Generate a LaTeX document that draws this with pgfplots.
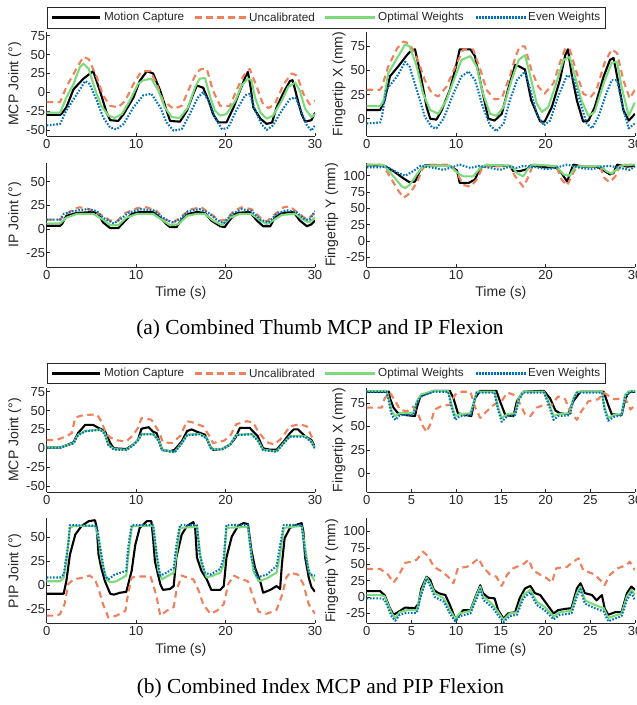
\documentclass[border=0pt]{standalone}
\usepackage{fontspec}
\setmainfont{Liberation Sans}
\newfontfamily\capfont{Liberation Serif}
\usepackage{pgfplots}
\pgfplotsset{compat=1.18}

\definecolor{axgray}{RGB}{38,38,38}
\definecolor{cUN}{RGB}{238,128,92}
\definecolor{cOW}{RGB}{124,218,124}
\definecolor{cEW}{RGB}{0,114,189}

\pgfplotsset{
  panel/.style={
    scale only axis, width=268.3pt, height=104pt, anchor=south west,
    axis x line*=bottom, axis y line*=left,
    axis line style={-, axgray, line width=0.6pt},
    tick align=inside, major tick length=3pt,
    tick style={axgray, line width=0.6pt},
    xmin=0, xmax=30, xtick={0,10,20,30},
    ticklabel style={font=\fontsize{13}{13}\selectfont, text=axgray},
    yticklabel style={inner xsep=1.5pt},
    /pgf/number format/assume math mode=true,
    label style={font=\fontsize{14}{14}\selectfont, text=axgray},
    every axis plot/.append style={line width=2.1pt, line join=round},
  },
  sMC/.style={black},
  sUN/.style={cUN, dash pattern=on 6.5pt off 4.5pt},
  sOW/.style={cOW},
  sEW/.style={cEW, dash pattern=on 1.6pt off 1.6pt},
}

% legend box (#1 bottom, #2 top, #3 bottom of the sample strips);
% frame and samples are filled, aligned to whole points
\newcommand\legendbox[3]{%
  \fill[axgray] (47pt,#1) rectangle (606pt,#2);
  \fill[white] (48pt,#1+1pt) rectangle (605pt,#2-1pt);
  \fill[black] (52pt,#3) rectangle (100pt,#3+3pt);
  \foreach \x in {195,206,217,228,239}
    \fill[cUN] (\x pt,#3) rectangle (\x pt+7pt,#3+3pt);
  \fill[cOW] (325pt,#3) rectangle (375pt,#3+3pt);
  \foreach \i in {0,...,16}
    \fill[cEW] (476pt+3pt*\i,#3) rectangle (478pt+3pt*\i,#3+3pt);
  \node[anchor=west, inner sep=0pt, text=axgray, font=\fontsize{11.7}{12}\selectfont] at (104pt,#3+1.5pt) {Motion Capture};
  \node[anchor=west, inner sep=0pt, text=axgray, font=\fontsize{11.7}{12}\selectfont] at (249pt,#3+1.5pt) {Uncalibrated};
  \node[anchor=west, inner sep=0pt, text=axgray, font=\fontsize{11.7}{12}\selectfont] at (378pt,#3+1.5pt) {Optimal Weights};
  \node[anchor=west, inner sep=0pt, text=axgray, font=\fontsize{11.7}{12}\selectfont] at (528pt,#3+1.5pt) {Even Weights};
}

\begin{document}
\begin{tikzpicture}
\path[use as bounding box] (0,0) rectangle (637pt,705pt);

% ---------------- (a) Thumb ----------------
\begin{axis}[panel, at={(46.7pt,569pt)}, ymin=-58, ymax=80, ytick={-50,-25,0,25,50,75},
  ylabel={MCP Joint (°)}]
\addplot[sMC] coordinates {(0,-30)(1.5,-30)(1.7,-28)(2.2,-20)(3,4)(4.1,18)(5.2,28)(6,0)(6.7,-27)(7.1,-37)(8,-38)(8.6,-29)(9.7,-7)(10.4,15)(11.2,28)(11.9,25)(12.7,2)(13.4,-24)(13.8,-38)(14.9,-39)(15.7,-24)(16.4,-2)(16.8,9)(17.5,6)(18.1,-11)(18.6,-29)(19.2,-40)(20.1,-40)(20.9,-20)(21.6,2)(22.2,20)(22.5,27)(22.8,7)(23.1,-20)(23.9,-35)(24.6,-42)(25.2,-40)(25.7,-20)(26.5,0)(27.2,15)(27.5,16)(28,-7)(28.5,-29)(28.9,-39)(29.6,-37)(30,-27)};
\addplot[sUN] coordinates {(0,-13)(1.5,-13)(2.2,7)(3.4,33)(4.1,47)(4.7,44)(5.6,20)(6.3,-4)(7.1,-18)(8,-20)(8.8,-11)(9.7,11)(10.6,28)(11.6,28)(12.3,11)(13,-11)(14.2,-22)(15.1,-18)(16,7)(16.8,27)(17.3,31)(17.9,31)(18.6,2)(19.4,-18)(20.5,-18)(21.2,2)(22,22)(22.7,31)(23.5,7)(24.2,-16)(24.8,-21)(25.5,-16)(26.5,11)(27.4,25)(28,22)(28.7,-2)(29.4,-16)(30,-11)};
\addplot[sOW] coordinates {(0,-27)(1.5,-27)(2.2,-7)(3,11)(3.7,33)(4.1,38)(4.7,31)(5.4,4)(6.1,-18)(6.9,-31)(7.6,-34)(8.4,-29)(9.3,-11)(10.2,11)(10.8,16)(11.7,18)(12.5,2)(13.2,-20)(14,-33)(14.9,-34)(15.8,-20)(16.6,7)(17.1,18)(17.7,19)(18.3,-7)(18.8,-24)(19.4,-31)(20.1,-29)(21.1,-11)(21.8,9)(22.5,18)(22.9,16)(23.3,-7)(23.9,-27)(24.6,-35)(25.3,-31)(26.3,-11)(27,7)(27.8,13)(28.3,2)(28.9,-22)(29.6,-33)(30,-29)};
\addplot[sEW] coordinates {(0,-44)(1.5,-42)(2.2,-24)(3.4,-2)(4.3,15)(4.8,11)(5.6,-11)(6.3,-33)(7.1,-47)(7.8,-49)(8.6,-42)(9.7,-20)(10.8,-4)(11.7,-2)(12.7,-20)(13.4,-40)(14.2,-51)(15.1,-49)(16,-29)(16.9,-7)(17.5,0)(18.1,-11)(18.8,-33)(19.6,-49)(20.3,-47)(21.2,-24)(22.2,-4)(22.7,-2)(23.3,-24)(24,-42)(24.6,-50)(25.3,-44)(26.3,-24)(27.2,-9)(27.8,-7)(28.3,-20)(29.1,-44)(29.6,-51)(30,-44)};
\end{axis}

\begin{axis}[panel, at={(366.7pt,569pt)}, ymin=-18, ymax=90, ytick={0,25,50,75},
  ylabel={Fingertip X (mm)}]
\addplot[sMC] coordinates {(0,9)(1.5,9)(2,19)(2.6,44)(3.5,54)(4.5,66)(5,71)(5.4,72)(6,47)(6.7,12)(7.1,0)(7.8,-1)(8.4,9)(9.3,30)(10,55)(10.4,72)(11.6,72)(12.1,65)(12.9,30)(13.6,0)(14.3,-2)(15.1,5)(15.8,30)(16.6,56)(17.1,54)(17.7,51)(18.4,19)(19.4,-3)(19.9,-3)(20.7,12)(21.6,40)(22.2,66)(22.5,72)(22.9,47)(23.5,19)(24.2,-3)(24.8,-2)(25.5,12)(26.5,44)(27.2,61)(27.6,63)(28,44)(28.7,9)(29.3,-2)(30,5)};
\addplot[sUN] coordinates {(0,30)(1.5,30)(1.7,33)(2.4,54)(3.4,73)(4.1,80)(4.8,78)(5.8,59)(6.5,40)(7.3,26)(8,23)(8.9,33)(10.1,58)(10.8,72)(11.9,72)(12.7,51)(13.4,30)(14.3,20)(15.1,21)(16,44)(16.6,63)(17.1,75)(17.7,75)(18.4,51)(19.2,33)(19.9,26)(20.9,37)(21.6,58)(22.2,73)(22.7,72)(23.5,47)(24.2,26)(25,22)(25.7,30)(26.6,58)(27.4,72)(28,68)(28.7,40)(29.4,21)(30,30)};
\addplot[sOW] coordinates {(0,13)(1.5,13)(1.9,19)(2.4,47)(3.4,63)(4.3,77)(4.8,75)(5.6,54)(6.3,26)(7.1,9)(8,5)(8.9,19)(9.9,44)(10.6,61)(11.6,65)(12.3,54)(13,26)(13.8,5)(14.5,3)(15.3,12)(16.2,40)(17,61)(17.7,66)(18.3,44)(19,16)(19.6,7)(20.3,12)(21.2,37)(22,61)(22.7,64)(23.3,44)(24,19)(24.8,3)(25.5,7)(26.5,37)(27.4,58)(28,59)(28.5,33)(29.3,3)(30,17)};
\addplot[sEW] coordinates {(0,-5)(1.5,-4)(1.7,2)(2.2,30)(3.4,44)(4.3,59)(4.8,54)(5.6,30)(6.5,2)(7.3,-9)(7.8,-10)(8.6,0)(9.7,26)(10.6,44)(11.4,49)(12.1,40)(13,12)(13.8,-7)(14.5,-13)(15.3,-5)(16,19)(16.8,40)(17.7,49)(18.3,30)(19,5)(19.8,-7)(20.5,-2)(21.4,23)(22.4,45)(23.1,42)(23.9,16)(24.6,-5)(25.2,-10)(25.9,2)(26.8,26)(27.4,40)(28,40)(28.7,9)(29.3,-10)(30,-5)};
\end{axis}

\begin{axis}[panel, at={(46.7pt,438pt)}, height=104.3pt, ymin=-40, ymax=70, ytick={-25,0,25,50},
  ylabel={IP Joint (°)}, xlabel={Time (s)}]
\addplot[sMC] coordinates {(0,3.5)(1.5,3.5)(1.7,5)(2.2,14)(3.4,17)(5.2,18)(5.8,16)(6.3,7)(7.1,1)(8,1)(8.8,9)(9.5,16)(10.4,18)(11.9,18)(12.7,12)(13.4,5)(13.8,2)(14.5,2)(15.1,10)(15.8,16)(16.8,18)(17.7,17)(18.4,9)(19.4,3)(19.9,2)(20.5,10)(21.2,17)(22.7,18)(23.5,9)(24.2,3)(25,3)(25.5,12)(26.3,17)(27.6,18)(28.3,9)(29.1,3)(29.6,5)(30,9)};
\addplot[sUN] coordinates {(0,10)(1.5,10)(1.9,14)(3,21)(3.7,23)(4.8,21)(5.6,17)(6.3,14)(7.1,9)(7.8,8)(8.8,17)(10.1,22)(11.2,23)(12.3,19)(13.2,10)(14.2,7)(15.1,14)(16.2,21)(17.3,23)(18.3,16)(19.4,9)(20.1,10)(20.9,19)(21.8,23)(22.9,21)(23.9,12)(24.6,8)(25.3,14)(26.5,23)(27.2,24)(28.1,17)(29.1,10)(30,17)};
\addplot[sOW] coordinates {(0,6)(1.5,6)(2.2,12)(3.4,16)(5.2,16)(6.3,10)(7.1,4)(8,4)(8.9,12)(10.1,16)(11.9,16)(13,9)(13.8,4)(14.7,5)(15.7,14)(16.8,16)(17.7,16)(18.6,9)(19.6,4)(20.5,12)(21.6,16)(22.9,16)(23.9,9)(24.6,5)(25.3,9)(26.3,15)(27.8,16)(28.7,10)(29.3,7)(30,12)};
\addplot[sEW] coordinates {(0,10)(1.5,10)(1.9,16)(3,19)(4.5,21)(5.6,19)(6.3,12)(7.5,6)(8.2,10)(9.1,17)(10.4,21)(11.9,20)(13,12)(14,7)(14.9,10)(15.8,19)(17.1,21)(18.1,17)(19,10)(19.8,6)(20.7,16)(21.8,21)(22.9,19)(23.9,10)(24.8,7)(25.7,16)(26.8,20)(27.9,18)(28.9,10)(29.4,10)(30,19)};
\end{axis}

\begin{axis}[panel, at={(366.7pt,438pt)}, height=104.3pt, ymin=-40, ymax=120, ytick={-25,0,25,50,75,100},
  ylabel={Fingertip Y (mm)}, xlabel={Time (s)}]
\addplot[sMC] coordinates {(0,116)(1.5,116)(2,115)(3,107)(4.1,96)(4.8,90)(5.4,91)(6,109)(6.5,116)(9.3,115)(10.1,108)(10.4,89)(11.4,89)(12.1,94)(12.7,112)(13.4,116)(16,115)(16.4,107)(17.1,107)(17.9,110)(18.4,116)(19.8,113)(21.1,113)(21.8,104)(22.4,91)(22.7,102)(23.1,117)(24.2,114)(25.7,114)(26.5,108)(27.2,102)(27.6,104)(28,117)(29.1,114)(30,115)};
\addplot[sUN] coordinates {(0,117)(1.5,117)(2,112)(2.8,94)(3.5,78)(4.1,66)(4.8,73)(5.6,89)(6.3,112)(7.1,117)(9.3,117)(10.1,104)(10.8,86)(11.6,83)(12.3,94)(13,114)(16,115)(16.6,99)(17.5,83)(18.1,99)(18.6,117)(21.2,114)(21.8,94)(22.4,85)(23,102)(23.5,115)(26.1,114)(26.6,96)(27.2,90)(27.8,99)(28.3,115)(30,117)};
\addplot[sOW] coordinates {(0,117)(1.5,117)(2,115)(3,99)(3.9,84)(4.3,81)(4.8,86)(5.6,102)(6.3,115)(9.3,115)(10.2,104)(10.8,99)(11.9,99)(12.7,112)(13.4,117)(16.2,115)(16.8,104)(17.5,99)(18.1,112)(18.6,117)(21.2,115)(22,102)(22.7,100)(23.3,114)(26.1,115)(26.8,107)(27.4,103)(28.1,112)(28.9,117)(30,117)};
\addplot[sEW] coordinates {(0,113)(1.5,113)(2.2,114)(3.4,105)(4.3,100)(5.2,107)(6,115)(7.5,112)(8.6,109)(9.3,112)(10.4,117)(11.6,112)(12.5,115)(13.8,112)(14.9,109)(16,114)(16.8,112)(17.5,115)(19,113)(20.1,110)(21.1,112)(22.4,117)(23.9,112)(25.2,110)(26.3,114)(27.2,115)(28.3,112)(29.4,109)(30,114)};
\end{axis}

\node[font=\capfont\fontsize{21.4}{24}\selectfont] at (320pt,376pt) {(a) Combined Thumb MCP and IP Flexion};

% ---------------- (b) Index ----------------
\begin{axis}[panel, at={(46.7pt,213pt)}, ymin=-58, ymax=80, ytick={-50,-25,0,25,50,75},
  ylabel={MCP Joint (°)}]
\addplot[sMC] coordinates {(0,1)(1.5,1)(2.2,4)(3,8)(3.5,20)(4.3,31)(5.2,31)(5.8,27)(6.5,23)(7.1,7)(7.5,0)(8.9,-1)(9.7,5)(10.2,11)(10.6,26)(11.4,28)(11.9,22)(12.3,20)(12.9,-2)(13.8,-4)(14.3,-2)(15.1,9)(15.7,23)(16.2,25)(16.8,22)(17.7,18)(18.3,2)(18.6,-2)(19.6,-1)(20.5,5)(21.1,14)(21.6,27)(22.7,27)(23.6,16)(24.2,0)(25,-2)(25.7,-2)(26.5,9)(27.2,20)(27.6,25)(28.1,25)(28.9,16)(29.6,11)(30,2)};
\addplot[sUN] coordinates {(0,11)(1.1,11)(2.2,16)(2.8,20)(3.2,41)(4.1,44)(5.6,45)(6.1,36)(6.7,18)(7.6,11)(8.9,9)(9.7,18)(10.2,27)(10.6,40)(11.7,38)(12.5,23)(13,8)(14,7)(14.9,16)(15.7,36)(16.4,34)(17.5,29)(18.1,18)(18.6,7)(19.8,10)(20.5,16)(21.2,32)(22.4,36)(23.1,34)(23.6,23)(24.6,8)(25.5,5)(26.3,14)(27.2,29)(28.3,32)(29.1,29)(29.6,16)(30,11)};
\addplot[sOW] coordinates {(0,1)(1.5,1)(3,7)(3.5,18)(4.3,23)(6,25)(6.5,20)(6.9,5)(7.5,-1)(8.9,-2)(9.7,5)(10.2,11)(10.6,19)(11.9,19)(12.5,11)(12.9,-2)(14.3,-5)(15.1,7)(15.7,18)(17.1,19)(17.9,14)(18.4,-1)(19.6,-1)(20.5,5)(21.2,18)(22.9,19)(23.6,11)(24.2,-2)(25.7,-4)(26.5,7)(27.2,16)(28.9,16)(29.6,9)(30,0)};
\addplot[sEW] coordinates {(0,0.5)(1.5,0.5)(3,6.5)(3.5,17)(4.3,22.5)(6,24.5)(6.5,19)(6.9,4)(7.5,-1.5)(8.9,-2.5)(9.7,4.5)(10.2,10.5)(10.6,18.5)(11.9,18.5)(12.5,10)(12.9,-2.5)(14.3,-5.5)(15.1,6.5)(15.7,17.5)(17.1,18.5)(17.9,13)(18.4,-1.5)(19.6,-1.5)(20.5,4.5)(21.2,17.5)(22.9,18.5)(23.6,10)(24.2,-2.5)(25.7,-4.5)(26.5,6.5)(27.2,15.5)(28.9,15.5)(29.6,8)(30,-0.5)};
\end{axis}

\begin{axis}[panel, at={(366.7pt,213pt)}, ymin=-20, ymax=91, ytick={0,25,50,75},
  xtick={0,5,10,15,20,25,30}, ylabel={Fingertip X (mm)}]
\addplot[sMC] coordinates {(0,87)(2.5,87)(2.6,80)(3,70)(3.5,64)(4.5,62)(5.4,61)(5.6,70)(6,82)(6.7,85)(7.5,88)(9.3,88)(9.7,80)(10.2,64)(11.2,62)(11.7,61)(12.1,80)(12.7,88)(14.5,88)(14.9,77)(15.5,62)(16.4,61)(16.8,77)(17.5,87)(19.8,88)(20.5,80)(21.1,67)(21.6,64)(22.5,63)(23.1,77)(23.9,87)(26.5,87)(27,73)(27.4,63)(28.5,62)(28.9,79)(29.3,87)(30,87)};
\addplot[sUN] coordinates {(0,70)(1.7,70)(2,80)(2.6,86)(3.2,77)(3.7,68)(4.5,66)(5.2,71)(5.8,62)(6.3,50)(6.7,44)(7.1,52)(7.6,68)(8.4,72)(9.3,73)(9.9,84)(10.4,87)(11.6,87)(12.1,71)(12.7,59)(13.4,66)(14.2,73)(15.1,77)(15.7,86)(16.4,84)(17,77)(17.7,63)(18.3,61)(19,70)(19.8,73)(20.7,73)(21.4,82)(22.2,79)(22.7,66)(23.5,57)(24,66)(24.8,77)(25.9,79)(26.5,86)(27,83)(27.7,79)(28.9,80)(29.5,68)(30,73)};
\addplot[sOW] coordinates {(0,88)(2.2,88)(2.4,82)(2.8,66)(3.2,61)(3.7,64)(5.2,64)(5.6,77)(6.1,84)(7.5,88)(9.1,88)(9.5,73)(9.9,61)(10.4,63)(11.6,64)(11.9,73)(12.3,87)(14.3,87)(14.7,70)(15.1,59)(15.7,63)(16.6,64)(17,80)(17.5,87)(19.8,87)(20.3,77)(20.9,61)(21.4,63)(22.7,64)(23.1,80)(23.5,87)(26.3,87)(26.6,70)(27,59)(27.6,62)(28.5,63)(28.9,84)(29.5,88)(30,88)};
\addplot[sEW] coordinates {(0,87)(2.2,87)(2.4,80)(2.8,62)(3.2,57)(3.7,62)(5.2,62)(5.6,75)(6.1,82)(7.5,87)(9.1,87)(9.5,70)(9.9,57)(10.4,61)(11.6,62)(11.9,72)(12.3,86)(14.3,86)(14.7,67)(15.1,55)(15.7,61)(16.6,62)(17,78)(17.5,86)(19.8,86)(20.3,75)(20.9,57)(21.4,61)(22.7,62)(23.1,78)(23.5,86)(26.3,86)(26.6,68)(27,56)(27.6,60)(28.5,62)(28.9,82)(29.5,87)(30,87)};
\end{axis}

\begin{axis}[panel, at={(46.7pt,81.7pt)}, height=105pt, ymin=-40, ymax=70, ytick={-25,0,25,50},
  ylabel={PIP Joint (°)}, xlabel={Time (s)}]
\addplot[sMC] coordinates {(0,-9)(1.9,-9)(2.2,4.5)(2.6,32)(3.2,53)(3.9,62)(4.7,67)(5.4,68)(5.6,60)(5.8,32)(6.1,18)(6.5,4.5)(7.1,-9)(7.5,-10)(8.2,-8)(8.9,-7)(9.5,15)(9.9,42)(10.4,60)(11.2,67)(11.7,67)(11.9,49)(12.1,25)(12.7,1)(13,-5)(13.8,-4)(14.2,-1)(14.5,29)(15.1,53)(15.7,62)(16.4,66)(16.6,60)(16.8,29)(17.3,15)(17.9,6)(18.4,-5)(19.4,-5)(19.8,-1)(20.1,29)(20.7,51)(21.4,62)(22,65)(22.5,64)(22.9,36)(23.3,18)(23.9,3)(24.2,-8)(25,-5)(25.7,-1)(26.1,-4)(26.3,22)(26.6,49)(27.2,60)(27.9,63)(28.5,65)(28.7,56)(28.9,29)(29.3,8)(29.6,-2)(30,-7)};
\addplot[sUN] coordinates {(0,-32)(1.2,-32)(1.5,-30)(2,-20)(2.4,1)(3,6)(4.1,8)(4.8,10)(5.4,6)(5.8,-4)(6.3,-20)(6.9,-34)(7.8,-32)(8.8,-27)(9.1,-9)(9.5,8)(10.4,9)(11.6,9)(11.9,1)(12.3,-13)(12.7,-32)(13.4,-27)(14.2,-23)(14.5,-6)(15.1,10)(15.7,8)(16.4,6)(17,-6)(17.5,-20)(18.3,-30)(19,-27)(19.8,-20)(20.3,1)(20.9,10)(21.6,7)(22.5,4)(23.1,-13)(23.7,-28)(24.6,-30)(25.7,-26)(26.3,-11)(26.8,8)(27.2,13)(28.1,11)(28.7,1)(29.3,-20)(30,-30)};
\addplot[sOW] coordinates {(0,4)(1.5,4)(1.9,8)(2.2,25)(2.6,60)(3,62)(5.4,62)(5.8,49)(6.1,27)(6.7,6)(7.1,3)(7.8,4)(8.9,10)(9.1,29)(9.5,60)(9.7,62)(11.9,62)(12.1,46)(12.5,15)(12.9,6)(13.4,9)(14.2,13)(14.5,32)(14.9,60)(16.8,61)(17,46)(17.3,22)(17.9,8)(18.6,10)(19.4,13)(19.8,22)(20.1,60)(22.5,61)(22.7,46)(23.1,15)(23.7,4)(24.6,7)(25.7,13)(26.1,32)(26.5,60)(28.5,62)(28.9,39)(29.3,15)(30,4)};
\addplot[sEW] coordinates {(0,8)(1.5,8)(1.9,11)(2.4,42)(2.6,63)(5.6,62)(6,39)(6.5,10)(6.9,6)(7.6,11)(8.9,15)(9.1,39)(9.5,63)(11.9,63)(12.3,32)(12.7,10)(13.4,13)(14.2,18)(14.5,42)(14.9,63)(16.8,63)(17.1,32)(17.7,13)(18.3,11)(19.4,17)(19.8,29)(20.1,63)(22.5,63)(22.9,29)(23.5,8)(24.6,11)(25.7,20)(26.1,42)(26.5,63)(28.5,63)(28.9,32)(29.4,11)(30,10)};
\end{axis}

\begin{axis}[panel, at={(366.7pt,81.7pt)}, height=105pt, ymin=-40, ymax=120, ytick={-25,0,25,50,75,100},
  xtick={0,5,10,15,20,25,30}, ylabel={Fingertip Y (mm)}, xlabel={Time (s)}]
\addplot[sMC] coordinates {(0,9)(1.5,9)(2,3)(2.6,-17)(3,-27)(3.5,-23)(4.3,-16)(5.4,-17)(5.8,-10)(6.1,13)(6.7,31)(7.1,26)(7.5,11)(8,6)(8.8,3)(9.3,-12)(9.9,-33)(10.3,-28)(10.8,-20)(11.6,-20)(12.1,-2)(12.7,18)(13,6)(13.6,-1)(14.3,-2)(14.7,-20)(15.3,-33)(15.8,-25)(16.6,-23)(17.1,-2)(17.7,13)(18.3,17)(18.8,6)(19.4,3)(20.1,-10)(20.9,-25)(21.4,-20)(22.2,-18)(22.9,-17)(23.5,13)(23.9,21)(24.4,6)(25.2,3)(25.7,-5)(26.3,3)(26.6,-17)(27,-27)(27.8,-23)(28.5,-23)(29.1,6)(29.6,16)(30,11)};
\addplot[sUN] coordinates {(0,43)(1.5,43)(1.7,41)(2.4,34)(3,22)(3.5,31)(4.3,52)(5,54)(5.6,57)(6.3,69)(6.9,62)(7.5,46)(8.4,39)(9.1,31)(9.7,21)(10.2,44)(11.2,46)(11.9,52)(12.5,59)(13,46)(13.8,34)(14.5,31)(15.1,17)(15.7,34)(16.4,44)(17.5,50)(18.1,57)(18.6,41)(19.4,34)(20.1,29)(20.7,22)(21.2,44)(22.4,46)(23.1,54)(23.7,59)(24.2,41)(25.2,36)(25.9,29)(26.6,18)(27.2,34)(28.1,44)(29.1,49)(29.4,54)(30,41)};
\addplot[sOW] coordinates {(0,3)(1.5,3)(2,1)(2.8,-25)(3.2,-32)(3.7,-23)(4.5,-20)(5.6,-20)(6.1,8)(6.7,30)(7.1,21)(7.6,6)(8.6,-2)(9.3,-20)(9.9,-33)(10.4,-25)(11.6,-21)(12.3,3)(12.7,16)(13,1)(14,-10)(14.7,-23)(15.3,-35)(16,-25)(16.8,-23)(17.5,3)(18.3,11)(19,-7)(19.9,-15)(20.9,-30)(21.6,-23)(22.9,-21)(23.5,6)(23.9,16)(24.4,-5)(25.5,-12)(26.5,-17)(27,-32)(28.5,-25)(29.1,1)(29.6,11)(30,3)};
\addplot[sEW] coordinates {(0,-2)(1.5,-2)(2,-4)(2.8,-30)(3.2,-36)(3.7,-27)(4.5,-24)(5.6,-24)(6.1,4)(6.7,28)(7.1,17)(7.6,0)(8.6,-7)(9.3,-25)(9.9,-37)(10.4,-29)(11.6,-25)(12.3,-2)(12.7,12)(13,-4)(14,-15)(14.7,-28)(15.3,-38)(16,-29)(16.8,-27)(17.5,-2)(18.3,7)(19,-12)(19.9,-20)(20.9,-34)(21.6,-27)(22.9,-25)(23.5,1)(23.9,12)(24.4,-10)(25.5,-17)(26.5,-22)(27,-37)(28.5,-29)(29.1,-4)(29.6,7)(30,-5)};
\end{axis}

\node[font=\capfont\fontsize{21.4}{24}\selectfont] at (320.5pt,17pt) {(b) Combined Index MCP and PIP Flexion};

\legendbox{676pt}{698pt}{686pt}
\legendbox{321pt}{342pt}{330pt}
\end{tikzpicture}
\end{document}
